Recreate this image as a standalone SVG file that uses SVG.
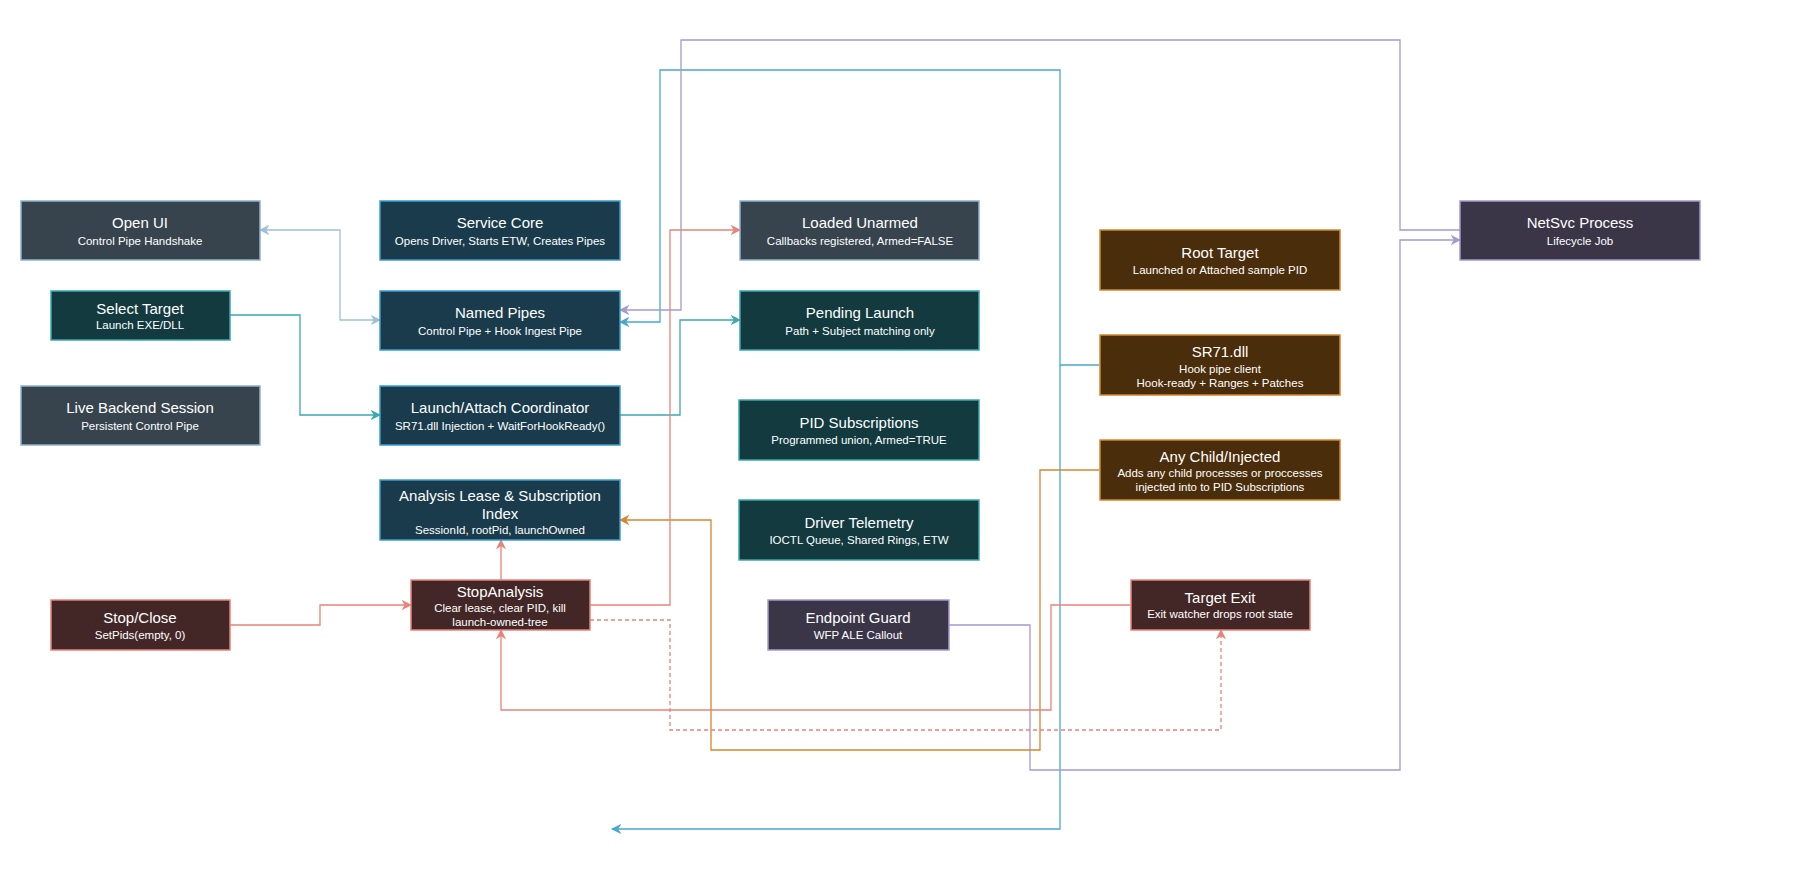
<svg xmlns="http://www.w3.org/2000/svg" width="1801" height="871" viewBox="0 0 1801 871">
<style>
text{font-family:"Liberation Sans",Arial,sans-serif;fill:#fff;text-anchor:middle}
.t{font-size:15px}.s{font-size:11.5px}
.grey{fill:#37444e;stroke:#8fb3d0;stroke-width:1.5}
.blue{fill:#193b4c;stroke:#3a9fcf;stroke-width:1.5}
.teal{fill:#123a3f;stroke:#3aa9b0;stroke-width:1.5}
.red{fill:#432727;stroke:#e8837a;stroke-width:1.5}
.pur{fill:#3a3648;stroke:#a39bcf;stroke-width:1.5}
.brn{fill:#4a2d0b;stroke:#d4862e;stroke-width:1.5}
.e{fill:none;stroke-width:1.3}
</style>
<defs>
<marker id="aLB" viewBox="0 0 10 10" refX="9" refY="5" markerWidth="8" markerHeight="8" orient="auto-start-reverse"><path d="M0,0L10,5L0,10L3,5z" fill="#9dbfd9"/></marker>
<marker id="aT" viewBox="0 0 10 10" refX="9" refY="5" markerWidth="8" markerHeight="8" orient="auto-start-reverse"><path d="M0,0L10,5L0,10L3,5z" fill="#3aa9b0"/></marker>
<marker id="aB" viewBox="0 0 10 10" refX="9" refY="5" markerWidth="8" markerHeight="8" orient="auto-start-reverse"><path d="M0,0L10,5L0,10L3,5z" fill="#4aa8d0"/></marker>
<marker id="aP" viewBox="0 0 10 10" refX="9" refY="5" markerWidth="8" markerHeight="8" orient="auto-start-reverse"><path d="M0,0L10,5L0,10L3,5z" fill="#a39bcf"/></marker>
<marker id="aO" viewBox="0 0 10 10" refX="9" refY="5" markerWidth="8" markerHeight="8" orient="auto-start-reverse"><path d="M0,0L10,5L0,10L3,5z" fill="#d4862e"/></marker>
<marker id="aR" viewBox="0 0 10 10" refX="9" refY="5" markerWidth="8" markerHeight="8" orient="auto-start-reverse"><path d="M0,0L10,5L0,10L3,5z" fill="#e8837a"/></marker>
</defs>
<rect width="1801" height="871" fill="#fff"/>
<g id="connectors">
<path class="e" stroke="#9dbfd9" d="M380,320H340V230H260" marker-start="url(#aLB)" marker-end="url(#aLB)"/>
<path class="e" stroke="#3aa9b0" d="M230,315H300V415H380" marker-end="url(#aT)"/>
<path class="e" stroke="#3aa9b0" d="M620,415H680V320H740" marker-end="url(#aT)"/>
<path class="e" stroke="#4aa8d0" d="M1099,365H1060V70H660V322H620" marker-end="url(#aB)"/>
<path class="e" stroke="#4aa8d0" d="M1060,365V829H612" marker-end="url(#aB)"/>
<path class="e" stroke="#a39bcf" d="M1460,230H1400V40H681V310H620" marker-end="url(#aP)"/>
<path class="e" stroke="#a39bcf" d="M949,625H1030V770H1400V240H1460" marker-end="url(#aP)"/>
<path class="e" stroke="#d4862e" d="M1099,470H1040V750H711V520H620" marker-end="url(#aO)"/>
<path class="e" stroke="#e8837a" d="M1130,605H1051V710H501V630" marker-end="url(#aR)"/>
<path class="e" stroke="#e8837a" stroke-dasharray="4,3" d="M590,620H670V730H1221V630" marker-end="url(#aR)"/>
<path class="e" stroke="#e8837a" d="M590,605H670V230H740" marker-end="url(#aR)"/>
<path class="e" stroke="#e8837a" d="M501,580V540" marker-end="url(#aR)"/>
<path class="e" stroke="#e8837a" d="M230,625H320V605H411" marker-end="url(#aR)"/>
</g>
<g id="openui"><rect class="grey" x="21" y="201" width="239" height="59"/><text class="t" x="140" y="228">Open UI</text><text class="s" x="140" y="245">Control Pipe Handshake</text></g>
<g id="servicecore"><rect class="blue" x="380" y="201" width="240" height="59"/><text class="t" x="500" y="228">Service Core</text><text class="s" x="500" y="245">Opens Driver, Starts ETW, Creates Pipes</text></g>
<g id="namedpipes"><rect class="blue" x="380" y="291" width="240" height="59"/><text class="t" x="500" y="318">Named Pipes</text><text class="s" x="500" y="335">Control Pipe + Hook Ingest Pipe</text></g>
<g id="launch"><rect class="blue" x="380" y="386" width="240" height="59"/><text class="t" x="500" y="413">Launch/Attach Coordinator</text><text class="s" x="500" y="430">SR71.dll Injection + WaitForHookReady()</text></g>
<g id="lease"><rect class="blue" x="380" y="480" width="240" height="60"/><text class="t" x="500" y="501">Analysis Lease &amp; Subscription</text><text class="t" x="500" y="519">Index</text><text class="s" x="500" y="534">SessionId, rootPid, launchOwned</text></g>
<g id="selecttarget"><rect class="teal" x="51" y="291" width="179" height="49"/><text class="t" x="140" y="314">Select Target</text><text class="s" x="140" y="329">Launch EXE/DLL</text></g>
<g id="livebackend"><rect class="grey" x="21" y="386" width="239" height="59"/><text class="t" x="140" y="413">Live Backend Session</text><text class="s" x="140" y="430">Persistent Control Pipe</text></g>
<g id="stopclose"><rect class="red" x="51" y="600" width="179" height="50"/><text class="t" x="140" y="623">Stop/Close</text><text class="s" x="140" y="639">SetPids(empty, 0)</text></g>
<g id="stopanalysis"><rect class="red" x="411" y="580" width="179" height="50"/><text class="t" x="500" y="597">StopAnalysis</text><text class="s" x="500" y="612">Clear lease, clear PID, kill</text><text class="s" x="500" y="626">launch-owned-tree</text></g>
<g id="loadedunarmed"><rect class="grey" x="740" y="201" width="239" height="59"/><text class="t" x="860" y="228">Loaded Unarmed</text><text class="s" x="860" y="245">Callbacks registered, Armed=FALSE</text></g>
<g id="pendinglaunch"><rect class="teal" x="740" y="291" width="239" height="59"/><text class="t" x="860" y="318">Pending Launch</text><text class="s" x="860" y="335">Path + Subject matching only</text></g>
<g id="pidsubs"><rect class="teal" x="739" y="400" width="240" height="60"/><text class="t" x="859" y="428">PID Subscriptions</text><text class="s" x="859" y="444">Programmed union, Armed=TRUE</text></g>
<g id="telemetry"><rect class="teal" x="739" y="500" width="240" height="60"/><text class="t" x="859" y="528">Driver Telemetry</text><text class="s" x="859" y="544">IOCTL Queue, Shared Rings, ETW</text></g>
<g id="endpointguard"><rect class="pur" x="768" y="600" width="181" height="50"/><text class="t" x="858" y="623">Endpoint Guard</text><text class="s" x="858" y="639">WFP ALE Callout</text></g>
<g id="roottarget"><rect class="brn" x="1100" y="230" width="240" height="60"/><text class="t" x="1220" y="258">Root Target</text><text class="s" x="1220" y="274">Launched or Attached sample PID</text></g>
<g id="sr71"><rect class="brn" x="1100" y="335" width="240" height="60"/><text class="t" x="1220" y="357">SR71.dll</text><text class="s" x="1220" y="373">Hook pipe client</text><text class="s" x="1220" y="387">Hook-ready + Ranges + Patches</text></g>
<g id="anychild"><rect class="brn" x="1100" y="440" width="240" height="60"/><text class="t" x="1220" y="462">Any Child/Injected</text><text class="s" x="1220" y="477">Adds any child processes or proccesses</text><text class="s" x="1220" y="491">injected into to PID Subscriptions</text></g>
<g id="targetexit"><rect class="red" x="1131" y="580" width="179" height="50"/><text class="t" x="1220" y="603">Target Exit</text><text class="s" x="1220" y="618">Exit watcher drops root state</text></g>
<g id="netsvc"><rect class="pur" x="1460" y="201" width="240" height="59"/><text class="t" x="1580" y="228">NetSvc Process</text><text class="s" x="1580" y="245">Lifecycle Job</text></g>
</svg>
